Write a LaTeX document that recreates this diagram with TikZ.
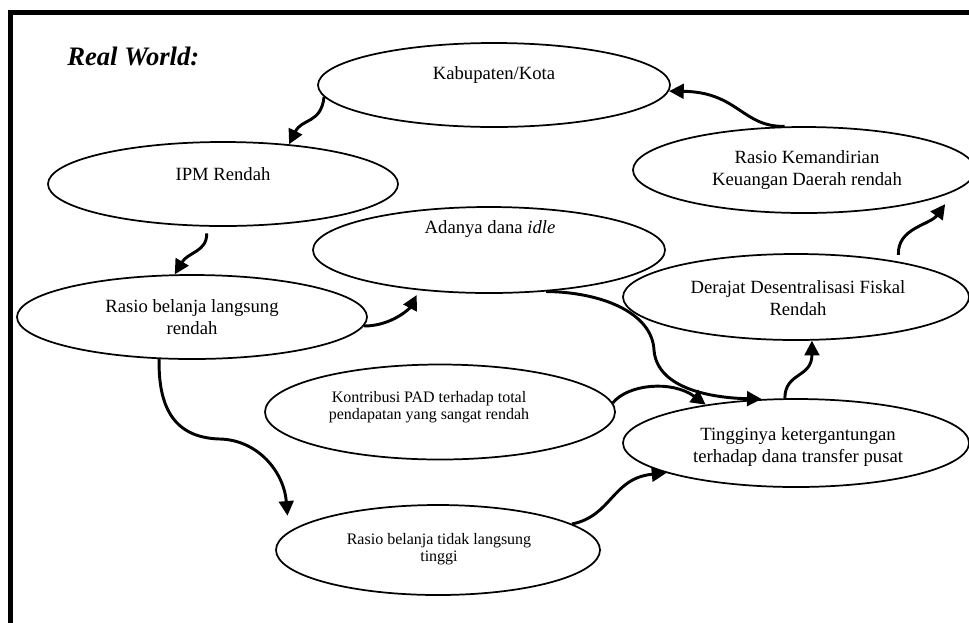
\documentclass[tikz,border=0pt]{standalone}
\usepackage{fontspec}
\setmainfont{Liberation Serif}
\usetikzlibrary{shapes.geometric,arrows.meta}
\begin{document}
\begin{tikzpicture}[x=0.75pt,y=-0.75pt,
  bubble/.style={draw, ellipse, line width=1.3pt, inner sep=0pt},
  ovalsize/.style 2 args={minimum width=#1*0.75pt, minimum height=#2*0.75pt},
  lbl/.style={inner sep=0pt, align=center, font=\fontsize{14}{16}\selectfont},
  lblsmall/.style={inner sep=0pt, align=center, font=\fontsize{12}{13}\selectfont},
  linkarrow/.style={line width=2.2pt, -{Triangle[length=11pt,width=11pt]}},
]
\path[use as bounding box, fill=white] (0,0) rectangle (969,622);
\clip (0,0) rectangle (969,622);

% outer frame (top and left edges)
\draw[line width=3.75pt, line join=miter] (10.5,640) -- (10.5,12.5) -- (990,12.5);

% heading
\node[font=\fontsize{20}{24}\selectfont\bfseries\itshape, anchor=base west, inner sep=0pt] (title) at (67,65) {Real World:};

% ellipses
\node[bubble, ovalsize={352}{84}] (kab) at (494,85) {};
\node[bubble, ovalsize={350}{84}] (ipm) at (223,184) {};
\node[bubble, ovalsize={350}{84}] (rbl) at (192,317) {};
\node[bubble, ovalsize={352}{86}] (ada) at (489,250) {};
\node[bubble, ovalsize={342}{86}] (rkk) at (804,170) {};
\node[bubble, ovalsize={346}{86}] (ddf) at (796,297) {};
\node[bubble, ovalsize={346}{88}] (tkt) at (796,443) {};
\node[bubble, ovalsize={350}{95}] (kon) at (440,412) {};
\node[bubble, ovalsize={324}{90}] (rtl) at (438,550) {};

% labels
\node[lbl] (kab-t) at (494,75) {Kabupaten/Kota};
\node[lbl] (ipm-t) at (223,174) {IPM Rendah};
\node[lbl] (rbl-t) at (192,317) {Rasio belanja langsung\\rendah};
\node[lbl] (ada-t) at (490,229) {Adanya dana \textit{idle}};
\node[lbl] (rkk-t) at (807,170) {Rasio Kemandirian\\Keuangan Daerah rendah};
\node[lbl] (ddf-t) at (798,298) {Derajat Desentralisasi Fiskal\\Rendah};
\node[lbl] (tkt-t) at (798,447) {Tingginya ketergantungan\\terhadap dana transfer pusat};
\node[lblsmall] (kon-t) at (429,407) {Kontribusi PAD terhadap total\\pendapatan yang sangat rendah};
\node[lblsmall] (rtl-t) at (439,549) {Rasio belanja tidak langsung\\tinggi};

% connectors
\draw[linkarrow] (kab.184) .. controls (321,124) and (302,118) .. (ipm.31);
\draw[linkarrow, shorten <=5pt] (ipm.249) .. controls (207,252) and (188,252) .. (rbl.112);
\draw[linkarrow, shorten >=4pt] (rbl.-3) .. controls (392,326) and (410,308) .. (ada.210);
\draw[linkarrow, shorten >=12pt] (rbl.232) .. controls (158,415) and (180,438) .. (220,439)
      .. controls (258,440) and (284,472) .. (rtl.173);
\draw[linkarrow] (ada.-36) .. controls (600,292) and (652,312) .. (654,350)
      .. controls (657,390) and (715,398) .. (tkt.128);
\draw[linkarrow] (kon.3) .. controls (628,384) and (672,380) .. (tkt.157);
\draw[linkarrow] (rtl.11) .. controls (612,516) and (612,478) .. (tkt.193);
\draw[linkarrow] (tkt.104) .. controls (785,372) and (812,378) .. (ddf.-70);
\draw[linkarrow, shorten <=5pt, shorten >=12pt] (ddf.19) .. controls (897,228) and (930,225) .. (rkk.-8);
\draw[linkarrow] (rkk.114) .. controls (742,127) and (738,92) .. (kab.-2);
\end{tikzpicture}
\end{document}
